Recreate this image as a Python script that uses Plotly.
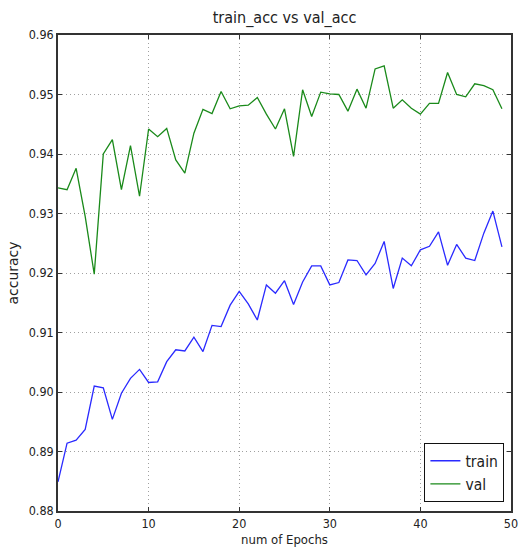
import plotly.graph_objects as go

epochs = list(range(50))
train_acc = [0.8849, 0.8914, 0.8919, 0.8937, 0.9010, 0.9007, 0.8954, 0.8998, 0.9023, 0.9038,
             0.9016, 0.9017, 0.9051, 0.9071, 0.9069, 0.9092, 0.9068, 0.9112, 0.9110, 0.9146,
             0.9169, 0.9148, 0.9121, 0.9180, 0.9166, 0.9187, 0.9147, 0.9185, 0.9212, 0.9212,
             0.9180, 0.9184, 0.9222, 0.9221, 0.9197, 0.9216, 0.9253, 0.9174, 0.9225, 0.9212,
             0.9239, 0.9245, 0.9269, 0.9213, 0.9248, 0.9225, 0.9221, 0.9267, 0.9304, 0.9244]
val_acc = [0.9343, 0.9340, 0.9376, 0.9295, 0.9198, 0.9400, 0.9424, 0.9340, 0.9414, 0.9329,
           0.9442, 0.9429, 0.9443, 0.9390, 0.9368, 0.9435, 0.9475, 0.9468, 0.9505, 0.9476,
           0.9481, 0.9482, 0.9495, 0.9467, 0.9442, 0.9476, 0.9396, 0.9508, 0.9463, 0.9504,
           0.9501, 0.9500, 0.9472, 0.9509, 0.9477, 0.9543, 0.9548, 0.9477, 0.9491, 0.9477,
           0.9467, 0.9485, 0.9485, 0.9537, 0.9500, 0.9496, 0.9518, 0.9515, 0.9508, 0.9476]
x_ticks = [0, 10, 20, 30, 40, 50]
y_ticks = [0.88, 0.89, 0.90, 0.91, 0.92, 0.93, 0.94, 0.95, 0.96]

FONT = "DejaVu Sans Condensed, DejaVu Sans, sans-serif"

fig = go.Figure()
fig.add_trace(go.Scatter(x=epochs, y=train_acc, mode="lines", name="train",
                         line=dict(color="#2a2aff", width=1.3)))
fig.add_trace(go.Scatter(x=epochs, y=val_acc, mode="lines", name="val",
                         line=dict(color="#1a8a1a", width=1.3)))

axis_common = dict(
    showline=True, linecolor="#333333", linewidth=1.5, mirror="ticks",
    ticks="inside", ticklen=4, tickcolor="#333333", tickwidth=1,
    showgrid=True, gridcolor="#a0a0a0", griddash="1px,3px", gridwidth=1,
    zeroline=False, tickfont=dict(family=FONT, size=12.5, color="#222222"),
)

fig.update_layout(
    width=526, height=554,
    margin=dict(l=58, r=8, t=35, b=43),
    paper_bgcolor="white", plot_bgcolor="white",
    font=dict(family=FONT, color="#222222"),
    title=dict(text="train_acc vs val_acc", x=0.5, xref="paper", xanchor="center",
               y=1 - 17 / 554, yref="container", yanchor="middle",
               font=dict(family=FONT, size=16, color="#222222")),
    xaxis=dict(range=[0, 50], tickvals=x_ticks, ticktext=[str(v) for v in x_ticks],
               title=dict(text="num of Epochs", standoff=5,
                          font=dict(family=FONT, size=13, color="#222222")),
               **axis_common),
    yaxis=dict(range=[0.88, 0.96], tickvals=y_ticks, ticktext=[f"{v:.2f}" for v in y_ticks],
               title=dict(text="accuracy", standoff=7,
                          font=dict(family="DejaVu Sans, sans-serif", size=14, color="#222222")),
               **axis_common),
    legend=dict(x=0.985, y=0.019, xanchor="right", yanchor="bottom",
                bordercolor="#111111", borderwidth=1.2, bgcolor="white",
                font=dict(family=FONT, size=15.5, color="#222222"),
                itemwidth=30, tracegroupgap=4),
    showlegend=True,
)

fig.write_html("out.html",
               config={"displayModeBar": False},
               post_script="document.body.style.margin='0px';document.body.style.padding='0px';")
